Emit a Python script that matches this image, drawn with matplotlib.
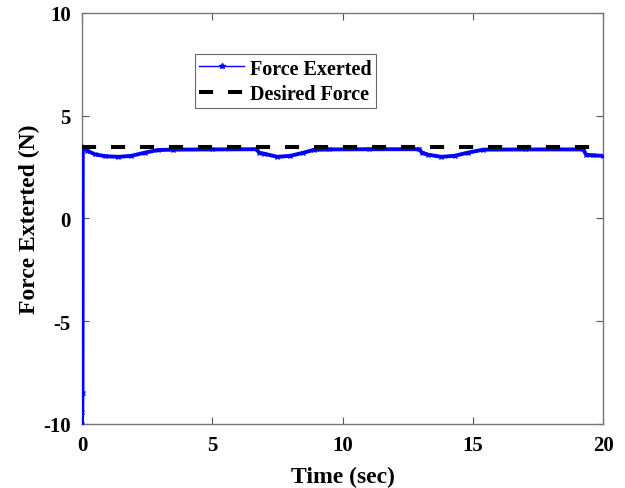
import matplotlib

matplotlib.use("Agg")
import matplotlib.pyplot as plt
from matplotlib.lines import Line2D

plt.rcParams.update({
    "font.family": ["Liberation Serif", "DejaVu Serif"],
    "font.weight": "bold",
    "axes.labelweight": "bold",
    "axes.unicode_minus": False,
})

# force response sampled from the controller run (time in s, force in N)
time_s = [0.0, 0.01, 0.02, 0.03, 0.06, 0.2, 0.5, 0.9, 1.4, 1.9, 2.4, 2.9, 3.5,
          5.0, 6.7, 6.8, 7.0, 7.5, 8.0, 8.5, 8.9, 9.5, 11.0, 12.95, 13.05,
          13.3, 13.8, 14.3, 14.8, 15.4, 17.0, 19.25, 19.35, 19.6, 20.0]
force_exerted = [-10.0, -9.4, -8.5, 3.5, 3.45, 3.3, 3.12, 3.03, 3.0, 3.05,
                 3.2, 3.33, 3.35, 3.36, 3.37, 3.2, 3.15, 3.0, 3.05, 3.2,
                 3.34, 3.36, 3.37, 3.37, 3.2, 3.1, 3.0, 3.05, 3.2, 3.35,
                 3.36, 3.36, 3.1, 3.07, 3.05]
desired_t = [0.0, 20.0]
desired_force = [3.5, 3.5]

x_ticks = [0, 5, 10, 15, 20]
y_ticks = [-10, -5, 0, 5, 10]

fig = plt.figure(figsize=(6.25, 4.89), dpi=100)
ax = fig.add_axes([0.1312, 0.1309, 0.8336, 0.8405])

ax.plot(time_s, force_exerted, color="#0000ff", lw=2.8, marker="x",
        ms=3.5, mew=1.0, zorder=3)
ax.plot(desired_t, desired_force, color="black", lw=2.9,
        dashes=(3.5, 3.7), zorder=4)

ax.set_xlim(0, 20)
ax.set_ylim(-10, 10)
ax.set_xticks(x_ticks)
ax.set_yticks(y_ticks)
ax.tick_params(direction="in", length=5, width=0.8, color="#555555",
               labelsize=15, top=True, right=True, pad=8)
for side in ax.spines.values():
    side.set_color("#777777")
    side.set_linewidth(1.0)

ax.set_xlabel("Time (sec)", fontsize=17, labelpad=8)
ax.set_ylabel("Force Exterted (N)", fontsize=17, labelpad=2)

handles = [
    Line2D([], [], color="#0000ff", lw=1.0, marker="*", ms=4,
           markevery=[1], label="Force Exerted"),
    Line2D([], [], color="black", lw=2.9, dashes=(3.5, 3.7),
           label="Desired Force"),
]
leg = ax.legend(handles=handles, loc="upper left",
                bbox_to_anchor=(0.217, 0.9), fontsize=14.5, frameon=True,
                fancybox=False, edgecolor="#444444", handlelength=2.2,
                handletextpad=0.3, borderpad=0.22, labelspacing=0.25,
                borderaxespad=0)
leg.get_frame().set_linewidth(0.8)

fig.savefig("out.png", dpi=100)
